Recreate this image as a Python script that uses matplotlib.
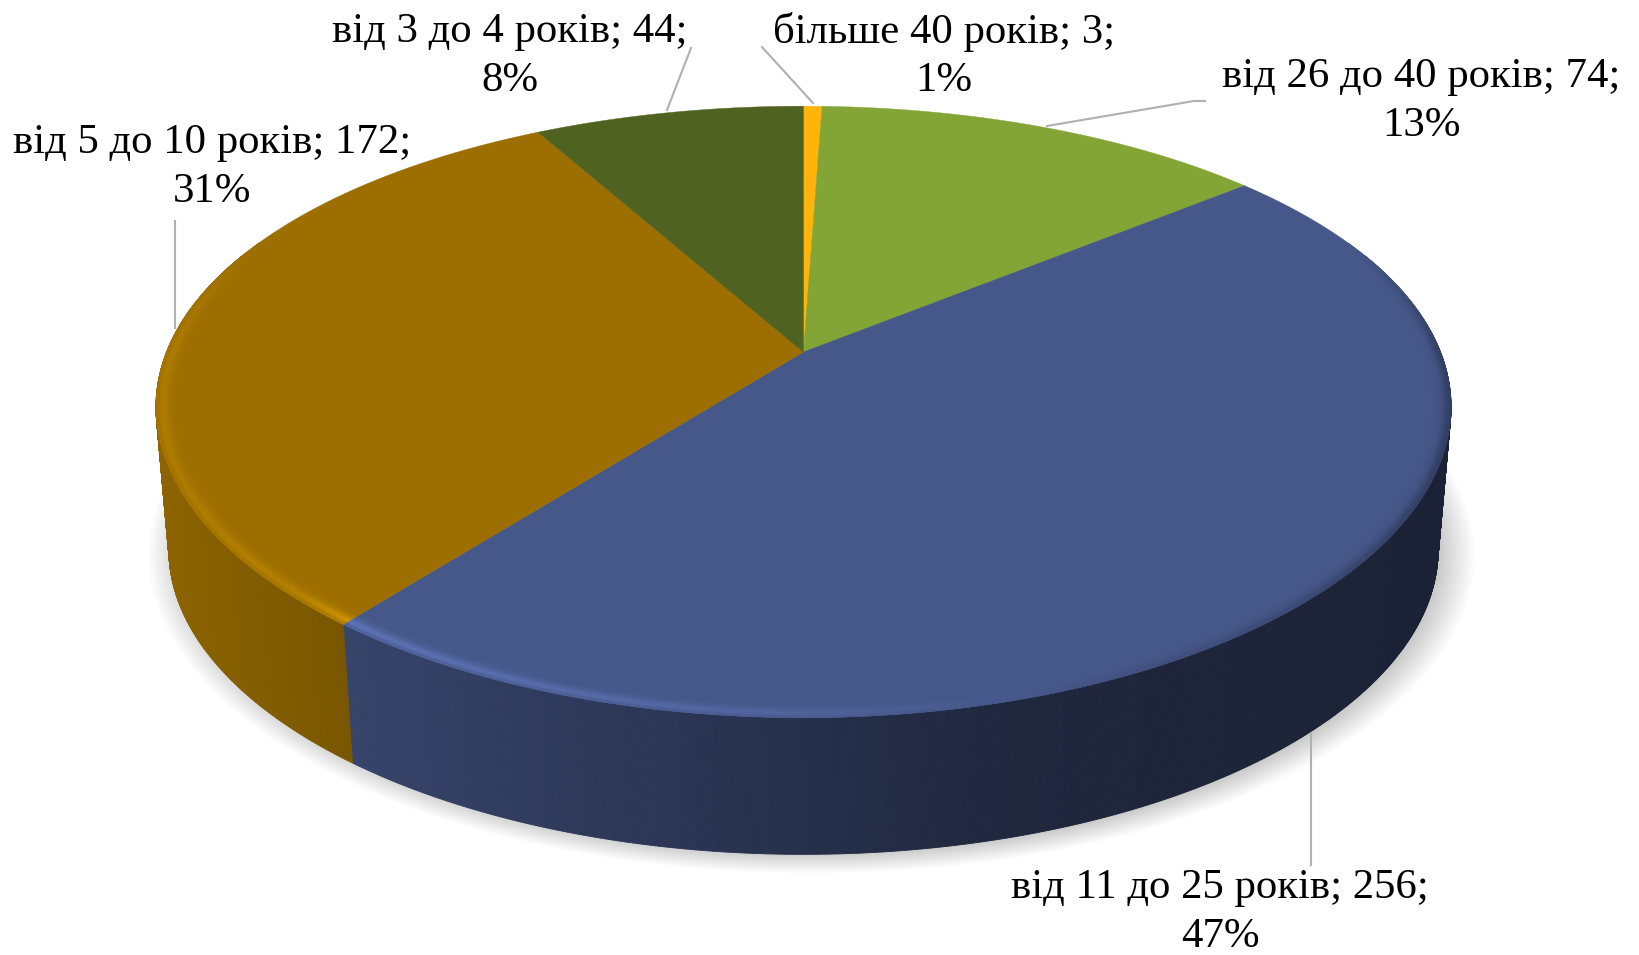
import numpy as np
import matplotlib
matplotlib.use('Agg')
import matplotlib.pyplot as plt
from matplotlib.collections import PolyCollection
from matplotlib.colors import to_rgb

categories = ['більше 40 років', 'від 26 до 40 років', 'від 11 до 25 років',
              'від 5 до 10 років', 'від 3 до 4 років']
values = [3, 74, 256, 172, 44]
percents = [1, 13, 47, 31, 8]
colours = ['#FFB40B', '#83A536', '#465789', '#9C6F00', '#4F6220']

# where the labels sit (pixels) and their leader lines
label_pos = [(944, 56), (1421, 101), (1220, 912), (212, 167), (510, 56)]
leaders = [[(762, 47), (813, 103)],
           [(1047, 126), (1194, 101), (1205, 101)],
           [(1311, 733), (1311, 865)],
           [(175, 221), (175, 328)],
           [(691, 48), (667, 110)]]

# perspective of the disc
cx, cy = 803.5, 352
a, b, k = 637, 294, 0.196
kx = 0.18
depth = 144
shrink = 0.98


def project(theta, r=1.0, scale=1.0, dy=0, dx=0):
    # theta is clockwise from 12 o'clock
    x = r * np.sin(theta)
    y = r * np.cos(theta)
    return (cx + dx + scale * a * x / (1 + kx * y),
            cy + dy - scale * b * y / (1 + k * y))


def side_shade(x):
    return np.interp(x, [160, 340, 1000, 1440], [0.9, 0.78, 0.45, 0.39])


def rim_amount(x, theta):
    amp = np.interp(x, [155, 300, 345, 800, 1100, 1300, 1455],
                    [0.12, 0.18, 0.34, 0.16, -0.05, -0.15, -0.28])
    # fades out towards the back of the disc
    return amp * np.clip((0.4 - np.cos(theta)) / 0.4, 0, 1)


fig, ax = plt.subplots(figsize=(16.39, 9.55), dpi=100)
ax.set_position([0, 0, 1, 1])
ax.set_xlim(0, 1639)
ax.set_ylim(955, 0)
ax.axis('off')

edges = np.cumsum([0] + values) / sum(values) * 2 * np.pi

# soft shadow under the disc
all_theta = np.linspace(0, 2 * np.pi, 361)
for s in np.linspace(1.045, 0.97, 24):
    sx, sy = project(all_theta, scale=s * shrink, dy=depth + 3, dx=8)
    ax.fill(sx, sy, color='black', alpha=0.012, lw=0, zorder=1)

# side wall, one thin strip per step
for i, col in enumerate(colours):
    base = np.array(to_rgb(col))
    n = max(int(values[i] * 3), 3)
    theta = np.linspace(edges[i], edges[i + 1], n + 1)
    x1, y1 = project(theta)
    x2, y2 = project(theta, scale=shrink, dy=depth)
    quads = []
    cols = []
    for j in range(n):
        if np.cos(theta[j]) > 0.35 and np.cos(theta[j + 1]) > 0.35:
            continue
        quads.append([(x1[j], y1[j]), (x1[j + 1], y1[j + 1]),
                      (x2[j + 1], y2[j + 1]), (x2[j], y2[j])])
        cols.append(base * side_shade((x1[j] + x2[j]) / 2))
    if quads:
        ax.add_collection(PolyCollection(quads, facecolors=cols, edgecolors=cols,
                                         linewidths=0.6, zorder=2))

# top of the disc
for i, col in enumerate(colours):
    theta = np.linspace(edges[i], edges[i + 1], max(values[i] * 3, 8))
    x, y = project(theta)
    ax.fill(np.r_[cx, x], np.r_[cy, y], color=col, lw=0.3, zorder=3)

# bevel along the rim
radii = np.array([0.97, 0.976, 0.982, 0.987, 0.991, 0.995, 1.0])
light_profile = [0.12, 0.35, 0.7, 1.0, 0.85, 0.45]
dark_profile = [0.03, 0.08, 0.2, 0.45, 0.75, 1.0]
for i, col in enumerate(colours):
    base = np.array(to_rgb(col))
    n = max(int(values[i] * 3), 3)
    theta = np.linspace(edges[i], edges[i + 1], n + 1)
    quads = []
    cols = []
    for r1, r2, pl, pd in zip(radii[:-1], radii[1:], light_profile, dark_profile):
        x1, y1 = project(theta, r1)
        x2, y2 = project(theta, r2)
        for j in range(n):
            amt = rim_amount(x2[j], theta[j])
            if amt == 0:
                continue
            p = pl if amt > 0 else pd
            quads.append([(x1[j], y1[j]), (x1[j + 1], y1[j + 1]),
                          (x2[j + 1], y2[j + 1]), (x2[j], y2[j])])
            cols.append(np.clip(base * (1 + amt * p), 0, 1))
    if quads:
        ax.add_collection(PolyCollection(quads, facecolors=cols, edgecolors=cols,
                                         linewidths=0.3, zorder=4))

for line in leaders:
    xs, ys = zip(*line)
    ax.plot(xs, ys, color='#B0B0B0', lw=1.5, zorder=5)

for cat, val, pct, pos in zip(categories, values, percents, label_pos):
    ax.text(pos[0], pos[1], f'{cat}; {val};\n{pct}%', ha='center', va='center',
            family='Liberation Serif', fontsize=30.8, color='black',
            linespacing=1.34, zorder=6)

fig.savefig('out.png', dpi=100)
